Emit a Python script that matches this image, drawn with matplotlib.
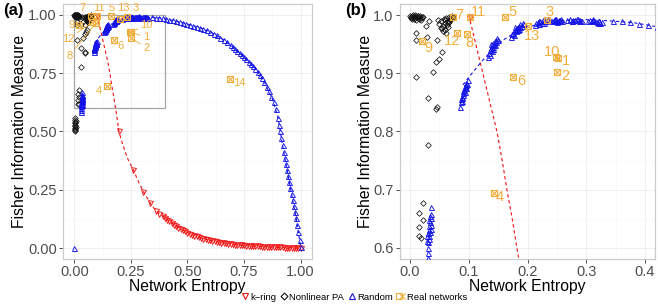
import matplotlib
matplotlib.use("Agg")
import matplotlib.pyplot as plt
from matplotlib.lines import Line2D
from matplotlib.patches import Rectangle
from matplotlib.legend_handler import HandlerTuple
import numpy as np

plt.rcParams['font.family'] = ['Liberation Sans', 'DejaVu Sans']

# ---------------- data ----------------
# k-ring (markers)
kring_entropy = [0.102, 0.197, 0.261, 0.305, 0.335, 0.36, 0.375, 0.39,
                 0.40, 0.41, 0.42, 0.43, 0.44, 0.45, 0.46, 0.47, 0.48, 0.49,
                 0.50, 0.51, 0.52, 0.53, 0.54, 0.55, 0.56, 0.57, 0.58, 0.59,
                 0.60, 0.61, 0.62, 0.63, 0.64, 0.65, 0.66, 0.67, 0.68, 0.69,
                 0.70, 0.71, 0.72, 0.73, 0.74, 0.75, 0.76, 0.77, 0.78, 0.79,
                 0.80, 0.81, 0.82, 0.83, 0.84, 0.85, 0.86, 0.87, 0.88, 0.89,
                 0.90, 0.91, 0.92, 0.93, 0.94, 0.95, 0.96, 0.97, 0.98, 0.99, 1.00]
kring_fisher = [0.997, 0.500, 0.335, 0.242, 0.194, 0.160, 0.148, 0.138,
                0.130, 0.122, 0.115, 0.107, 0.100, 0.094, 0.088, 0.082, 0.076, 0.071,
                0.066, 0.061, 0.057, 0.053, 0.050, 0.046, 0.043, 0.040, 0.038, 0.035,
                0.033, 0.031, 0.029, 0.027, 0.025, 0.023, 0.021, 0.020, 0.018, 0.017,
                0.016, 0.015, 0.014, 0.013, 0.012, 0.011, 0.010, 0.0095, 0.009, 0.0085,
                0.008, 0.0075, 0.007, 0.0065, 0.006, 0.0055, 0.005, 0.0045, 0.004, 0.0035,
                0.003, 0.0028, 0.0025, 0.0022, 0.002, 0.0016, 0.0012, 0.0009, 0.0006, 0.0004, 0.0002]
# k-ring fitted (dashed) curve
kring_fit_entropy = [0.100, 0.112, 0.124, 0.136, 0.148, 0.157, 0.165, 0.174, 0.182, 0.190,
                     0.197, 0.215, 0.235, 0.261, 0.283, 0.305, 0.335, 0.36, 0.39, 0.42,
                     0.46, 0.50, 0.55, 0.60, 0.65, 0.70, 0.75, 0.80, 0.85, 0.90, 0.95, 1.00]
kring_fit_fisher = [1.000, 0.950, 0.900, 0.850, 0.800, 0.750, 0.700, 0.650, 0.600, 0.550,
                    0.500, 0.440, 0.385, 0.335, 0.285, 0.242, 0.194, 0.160, 0.138, 0.115,
                    0.088, 0.066, 0.046, 0.033, 0.023, 0.016, 0.011, 0.008, 0.0055, 0.003, 0.0016, 0.0002]

# Random networks (clusters + tail along the curve)
random_entropy = [0.000,
    0.030, 0.031, 0.029, 0.032, 0.033, 0.034, 0.035, 0.036, 0.030, 0.032, 0.034, 0.035, 0.031, 0.033, 0.036, 0.029, 0.032, 0.035, 0.030, 0.034,
    0.085, 0.086, 0.087, 0.088, 0.089, 0.090, 0.091, 0.092, 0.093, 0.094, 0.095, 0.096, 0.097, 0.098, 0.089, 0.091, 0.093, 0.095,
    0.133, 0.135, 0.136, 0.137, 0.138, 0.139, 0.140, 0.141, 0.142, 0.143, 0.144, 0.145, 0.146, 0.147, 0.148, 0.150, 0.138, 0.142,
    0.172, 0.174, 0.176, 0.177, 0.178, 0.180, 0.181, 0.182, 0.184, 0.185, 0.186, 0.188, 0.190, 0.192, 0.194, 0.179, 0.183, 0.187,
    0.212, 0.215, 0.218, 0.220, 0.222, 0.224, 0.226, 0.228, 0.230, 0.232, 0.235, 0.238, 0.220, 0.228,
    0.242, 0.245, 0.247, 0.249, 0.251, 0.253, 0.255, 0.257, 0.259, 0.250, 0.246, 0.254,
    0.268, 0.272, 0.275, 0.278, 0.281, 0.284, 0.287, 0.290, 0.293, 0.276, 0.286,
    0.303, 0.306, 0.309, 0.312, 0.315, 0.318, 0.321, 0.324, 0.327, 0.312, 0.320,
    0.345, 0.36, 0.375, 0.39, 0.405, 0.42, 0.435, 0.45, 0.465, 0.48, 0.495, 0.51, 0.525, 0.54,
    0.555, 0.57, 0.585, 0.60, 0.615, 0.63, 0.645, 0.66, 0.675, 0.69, 0.70, 0.71, 0.72, 0.73,
    0.74, 0.75, 0.76, 0.77, 0.78, 0.79, 0.80, 0.81, 0.82, 0.83, 0.84, 0.85, 0.86, 0.87, 0.88,
    0.89, 0.90, 0.905, 0.91, 0.915, 0.92, 0.925, 0.93, 0.935, 0.94, 0.945, 0.95, 0.955, 0.96,
    0.965, 0.97, 0.975, 0.98, 0.985, 0.99, 0.995, 1.0]
random_fisher = [0.000,
    0.583, 0.592, 0.612, 0.615, 0.620, 0.628, 0.633, 0.640, 0.625, 0.630, 0.645, 0.652, 0.610, 0.638, 0.658, 0.620, 0.648, 0.670, 0.600, 0.655,
    0.842, 0.850, 0.855, 0.860, 0.858, 0.866, 0.870, 0.872, 0.868, 0.876, 0.880, 0.884, 0.882, 0.888, 0.852, 0.862, 0.878, 0.874,
    0.928, 0.935, 0.932, 0.940, 0.944, 0.938, 0.948, 0.945, 0.952, 0.950, 0.955, 0.948, 0.958, 0.954, 0.960, 0.958, 0.950, 0.942,
    0.962, 0.968, 0.970, 0.966, 0.974, 0.976, 0.972, 0.978, 0.980, 0.976, 0.982, 0.984, 0.982, 0.986, 0.984, 0.980, 0.975, 0.979,
    0.983, 0.986, 0.988, 0.985, 0.990, 0.987, 0.991, 0.989, 0.992, 0.990, 0.993, 0.991, 0.989, 0.986,
    0.990, 0.992, 0.989, 0.993, 0.990, 0.992, 0.991, 0.993, 0.990, 0.988, 0.994, 0.989,
    0.991, 0.993, 0.990, 0.992, 0.991, 0.993, 0.990, 0.992, 0.989, 0.989, 0.994,
    0.990, 0.992, 0.989, 0.991, 0.990, 0.988, 0.990, 0.987, 0.988, 0.993, 0.986,
    0.990, 0.989, 0.988, 0.985, 0.983, 0.980, 0.977, 0.974, 0.970, 0.966, 0.962, 0.958, 0.954, 0.950,
    0.945, 0.940, 0.934, 0.928, 0.920, 0.912, 0.903, 0.894, 0.883, 0.871, 0.863, 0.855, 0.847, 0.838,
    0.829, 0.820, 0.810, 0.800, 0.790, 0.780, 0.770, 0.757, 0.743, 0.728, 0.712, 0.693, 0.672, 0.650, 0.626,
    0.595, 0.560, 0.530, 0.500, 0.470, 0.440, 0.412, 0.385, 0.360, 0.335, 0.310, 0.285, 0.258, 0.230,
    0.205, 0.180, 0.155, 0.130, 0.100, 0.070, 0.035, 0.003]
# Random fitted (dashed) curve
random_fit_entropy = [0.09, 0.10, 0.12, 0.14, 0.16, 0.18, 0.20, 0.22, 0.25, 0.28, 0.31, 0.34, 0.38, 0.42, 0.46,
                      0.50, 0.55, 0.60, 0.65, 0.70, 0.75, 0.80, 0.84, 0.877, 0.90, 0.92, 0.94, 0.96, 0.98, 1.0]
random_fit_fisher = [0.880, 0.893, 0.918, 0.940, 0.958, 0.970, 0.979, 0.985, 0.990, 0.992, 0.992, 0.990, 0.987, 0.980, 0.971,
                     0.961, 0.947, 0.928, 0.900, 0.863, 0.820, 0.770, 0.712, 0.635, 0.560, 0.440, 0.335, 0.230, 0.130, 0.003]

# Nonlinear PA
npa_entropy = [0.000, 0.002, 0.004, 0.006, 0.008, 0.010, 0.012, 0.014, 0.016, 0.018, 0.020, 0.003, 0.007, 0.011, 0.015, 0.019, 0.005, 0.009, 0.013, 0.022, 0.001, 0.017,
               0.050, 0.053, 0.056, 0.058, 0.060, 0.062, 0.064, 0.066, 0.068, 0.070, 0.072, 0.055, 0.059, 0.063, 0.067, 0.061, 0.057, 0.065, 0.052, 0.069, 0.074, 0.060, 0.064, 0.048,
               0.010, 0.010, 0.010, 0.029, 0.027, 0.033, 0.046, 0.054, 0.050, 0.045, 0.039, 0.030, 0.046, 0.045, 0.030, 0.022, 0.016, 0.022, 0.016, 0.016, 0.019,
               0.002, 0.003, 0.004, 0.005, 0.006, 0.003, 0.004, 0.005, 0.002, 0.006, 0.004, 0.003]
npa_fisher = [0.998, 0.996, 0.999, 0.997, 0.995, 0.998, 0.996, 0.999, 0.997, 0.995, 0.997, 0.993, 0.994, 0.992, 0.994, 0.992, 1.000, 1.000, 0.999, 0.996, 0.995, 0.998,
              0.985, 0.990, 0.982, 0.993, 0.987, 0.995, 0.990, 0.997, 0.992, 0.996, 0.998, 0.978, 0.975, 0.983, 0.988, 0.970, 0.972, 0.980, 0.978, 0.993, 0.996, 0.991, 0.986, 0.992,
              0.970, 0.958, 0.893, 0.962, 0.982, 0.990, 0.957, 0.936, 0.925, 0.920, 0.902, 0.858, 0.842, 0.838, 0.777, 0.677, 0.660, 0.648, 0.636, 0.620, 0.617,
              0.500, 0.505, 0.510, 0.515, 0.520, 0.525, 0.530, 0.535, 0.540, 0.545, 0.550, 0.558]

# Real networks
real_labels = ['1', '2', '3', '4', '5', '6', '7', '8', '9', '10', '11', '12', '13', '14']
real_entropy = [0.252, 0.250, 0.233, 0.143, 0.162, 0.175, 0.073, 0.097, 0.020, 0.248, 0.102, 0.080, 0.201, 0.687]
real_fisher = [0.926, 0.902, 0.991, 0.694, 0.996, 0.894, 0.996, 0.967, 0.955, 0.928, 0.997, 0.970, 0.981, 0.725]

# ---------------- layout of labels (positions, not data) ----------------
lab_pos_a = {'1': (0.317, 0.904), '2': (0.317, 0.860), '3': (0.269, 1.030), '4': (0.110, 0.674),
             '5': (0.163, 1.030), '6': (0.203, 0.867), '7': (0.035, 1.030), '8': (-0.022, 0.824),
             '9': (-0.013, 0.957), '10': (0.320, 0.955), '11': (0.110, 1.030), '12': (-0.026, 0.897),
             '13': (0.216, 1.028), '14': (0.727, 0.708)}
seg_a = {'1', '2', '3', '7', '8', '9', '10', '12', '13'}
lab_pos_b = {'1': (0.265, 0.921), '2': (0.264, 0.895), '3': (0.237, 1.006), '4': (0.152, 0.687),
             '5': (0.175, 1.006), '6': (0.189, 0.887), '7': (0.084, 1.000), '8': (0.101, 0.952),
             '9': (0.032, 0.944), '10': (0.241, 0.937), '11': (0.117, 1.005), '12': (0.071, 0.956),
             '13': (0.208, 0.964)}

RED = '#EE1111'
BLUE = '#1414E6'
BLACK = '#111111'
ORANGE = '#F2AE3C'

fig = plt.figure(figsize=(6.58, 3.07), dpi=100)
W, H = 658.0, 307.0
axa = fig.add_axes([63 / W, 1 - 259 / H, (312 - 63) / W, (259 - 4) / H])
axb = fig.add_axes([400 / W, 1 - 259 / H, (655 - 400) / W, (259 - 4) / H])

ms = 3.6
mew = 0.65


def draw(ax, lab_pos, seg, fs_lab):
    ax.plot(kring_fit_entropy, kring_fit_fisher, ls=(0, (3, 2.5)), color=RED, lw=0.8, zorder=2)
    ax.plot(random_fit_entropy, random_fit_fisher, ls=(0, (3, 2.5)), color=BLUE, lw=0.8, zorder=2)
    ax.plot(kring_entropy, kring_fisher, ls='none', marker='v', ms=ms, mfc='none', mec=RED, mew=mew, zorder=3)
    ax.plot(npa_entropy, npa_fisher, ls='none', marker='D', ms=ms * 0.8, mfc='none', mec=BLACK, mew=mew * 0.85, zorder=3)
    ax.plot(random_entropy, random_fisher, ls='none', marker='^', ms=ms, mfc='none', mec=BLUE, mew=mew, zorder=3)
    ax.plot(real_entropy, real_fisher, ls='none', marker='s', ms=5, mfc='none', mec=ORANGE, mew=0.8, zorder=4)
    ax.plot(real_entropy, real_fisher, ls='none', marker='x', ms=4.2, mec=ORANGE, mew=0.8, zorder=4)
    for lab, x, y in zip(real_labels, real_entropy, real_fisher):
        if lab not in lab_pos:
            continue
        tx, ty = lab_pos[lab]
        if lab in seg:
            ax.annotate(lab, xy=(x, y), xytext=(tx, ty), color=ORANGE, fontsize=fs_lab,
                        ha='center', va='center', zorder=5, annotation_clip=True,
                        arrowprops=dict(arrowstyle='-', color=ORANGE, lw=0.6, shrinkA=0, shrinkB=2))
        else:
            ax.text(tx, ty, lab, color=ORANGE, fontsize=fs_lab, ha='center', va='center', zorder=5, clip_on=True)


def style(ax, xt, xl, yt, yl, xlim, ylim, minx, miny, ylpad):
    ax.set_xlim(*xlim)
    ax.set_ylim(*ylim)
    ax.set_xticks(xt)
    ax.set_xticklabels(xl)
    ax.set_yticks(yt)
    ax.set_yticklabels(yl)
    ax.set_xticks(minx, minor=True)
    ax.set_yticks(miny, minor=True)
    ax.tick_params(which='major', direction='out', length=3, width=0.6, color='#333333',
                   labelsize=10.5, labelcolor='#4D4D4D', pad=1.5)
    ax.tick_params(which='minor', length=0)
    ax.grid(which='major', color='#EEEEEE', lw=0.6, zorder=0)
    ax.grid(which='minor', color='#F6F6F6', lw=0.4, zorder=0)
    ax.set_axisbelow(True)
    for sp in ax.spines.values():
        sp.set_color('#CCCCCC')
        sp.set_linewidth(0.9)
    ax.set_xlabel('Network Entropy', fontsize=11.3, labelpad=0)
    ax.set_ylabel('Fisher Information Measure', fontsize=11.3, labelpad=ylpad)


draw(axa, lab_pos_a, seg_a, 8)
axa.add_patch(Rectangle((0, 0.6), 0.4, 0.4, fill=False, ec='#A6A6A6', lw=0.9, zorder=1))
style(axa, [0, 0.25, 0.5, 0.75, 1.0], ['0.00', '0.25', '0.50', '0.75', '1.00'],
      [0, 0.25, 0.5, 0.75, 1.0], ['0.00', '0.25', '0.50', '0.75', '1.00'],
      (-0.05, 1.05), (-0.047, 1.047), [0.125, 0.375, 0.625, 0.875], [0.125, 0.375, 0.625, 0.875], 0.5)

draw(axb, lab_pos_b, set(), 10.5)
style(axb, [0, 0.1, 0.2, 0.3, 0.4], ['0.0', '0.1', '0.2', '0.3', '0.4'],
      [0.6, 0.7, 0.8, 0.9, 1.0], ['0.6', '0.7', '0.8', '0.9', '1.0'],
      (-0.017, 0.417), (0.581, 1.019), [0.05, 0.15, 0.25, 0.35], [0.65, 0.75, 0.85, 0.95], 0.5)

fig.text(3 / W, 1 - 11 / H, '(a)', fontsize=12, fontweight='bold', va='center', ha='left')
fig.text(345 / W, 1 - 11 / H, '(b)', fontsize=12, fontweight='bold', va='center', ha='left')

h_k = Line2D([], [], ls='none', marker='v', ms=4, mfc='none', mec=RED, mew=0.8)
h_n = Line2D([], [], ls='none', marker='D', ms=3.5, mfc='none', mec=BLACK, mew=0.8)
h_r = Line2D([], [], ls='none', marker='^', ms=4, mfc='none', mec=BLUE, mew=0.8)
h_s = Line2D([], [], ls='none', marker='s', ms=4.5, mfc='none', mec=ORANGE, mew=0.8)
h_x = Line2D([], [], ls='none', marker='x', ms=4, mec=ORANGE, mew=0.8)
fig.legend([h_k, h_n, h_r, (h_s, h_x)], ['k\u2212ring', 'Nonlinear PA', 'Random', 'Real networks'],
           loc='center', bbox_to_anchor=(354 / W, 1 - 297 / H), ncol=4, frameon=False,
           fontsize=6.8, handlelength=0.7, handletextpad=0.25, columnspacing=0.45, borderpad=0,
           handler_map={tuple: HandlerTuple(ndivide=None, pad=0)})

fig.savefig('out.png', dpi=100)
